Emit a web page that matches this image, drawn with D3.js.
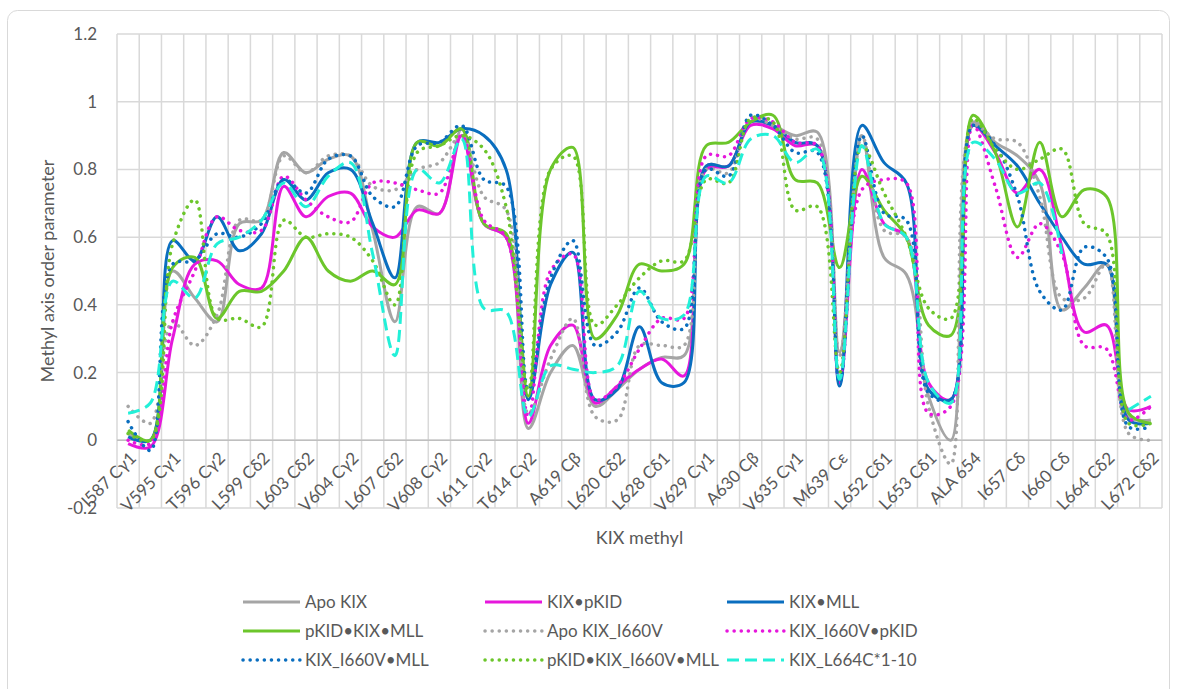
<!DOCTYPE html>
<html>
<head>
<meta charset="utf-8">
<script src="https://cdn.jsdelivr.net/npm/d3@7"></script>
<style>
  body { margin: 0; background: #fff; }
  text { font-family: Lato, "Open Sans", sans-serif; fill: #595959; }
</style>
</head>
<body>
<svg id="chart" width="1178" height="689"></svg>
<script>
// categories (only every other one gets a label on the axis, like Excel did)
var categories = [
  "I587 Cγ1", "I587 Cδ1", "V595 Cγ1", "V595 Cγ2", "T596 Cγ2", "L599 Cδ1", "L599 Cδ2", "L603 Cδ1",
  "L603 Cδ2", "V604 Cγ1", "V604 Cγ2", "L607 Cδ1", "L607 Cδ2", "V608 Cγ1", "V608 Cγ2", "I611 Cδ1",
  "I611 Cγ2", "A613 Cβ", "T614 Cγ2", "A618 Cβ", "A619 Cβ", "L620 Cδ1", "L620 Cδ2", "L624 Cδ2",
  "L628 Cδ1", "L628 Cδ2", "V629 Cγ1", "V629 Cγ2", "A630 Cβ", "A631 Cβ", "V635 Cγ1", "V635 Cγ2",
  "M639 Cε", "M645 Cε", "L652 Cδ1", "L652 Cδ2", "L653 Cδ1", "L653 Cδ2", "ALA 654", "I657 Cγ2",
  "I657 Cδ", "I660 Cγ2", "I660 Cδ", "L664 Cδ1", "L664 Cδ2", "L672 Cδ1", "L672 Cδ2"
];

var apoKIX = [0.02, 0.0, 0.5, 0.42, 0.35, 0.64, 0.65, 0.85, 0.79, 0.83, 0.84, 0.62, 0.35, 0.69, 0.67, 0.92,
  0.64, 0.6, 0.035, 0.2, 0.28, 0.1, 0.15, 0.21, 0.245, 0.25, 0.81, 0.81, 0.94, 0.93, 0.9, 0.91,
  0.26, 0.9, 0.54, 0.49, 0.13, 0.0, 0.94, 0.88, 0.84, 0.76, 0.385, 0.45, 0.52, 0.07, 0.06];
var kixPKID = [-0.01, -0.02, 0.3, 0.52, 0.53, 0.46, 0.45, 0.75, 0.66, 0.72, 0.73, 0.63, 0.6, 0.68, 0.67, 0.9,
  0.64, 0.6, 0.05, 0.28, 0.34, 0.11, 0.16, 0.21, 0.24, 0.19, 0.8, 0.81, 0.93, 0.92, 0.87, 0.87,
  0.17, 0.8, 0.64, 0.6, 0.17, 0.12, 0.93, 0.85, 0.73, 0.8, 0.57, 0.32, 0.34, 0.09, 0.1];
var kixMLL = [0.01, 0.0, 0.59, 0.53, 0.66, 0.56, 0.61, 0.77, 0.71, 0.79, 0.8, 0.64, 0.48, 0.88, 0.88, 0.92,
  0.9, 0.8, 0.12, 0.46, 0.555, 0.12, 0.15, 0.335, 0.17, 0.17, 0.81, 0.81, 0.94, 0.93, 0.88, 0.87,
  0.16, 0.93, 0.82, 0.76, 0.15, 0.12, 0.93, 0.87, 0.81, 0.7, 0.6, 0.52, 0.52, 0.06, 0.05];
var pkidKixMLL = [0.03, 0.0, 0.51, 0.54, 0.36, 0.44, 0.44, 0.5, 0.6, 0.5, 0.47, 0.5, 0.46, 0.88, 0.87, 0.92,
  0.64, 0.61, 0.13, 0.8, 0.865, 0.3, 0.37, 0.52, 0.5, 0.52, 0.87, 0.88, 0.94, 0.96, 0.77, 0.76,
  0.51, 0.78, 0.68, 0.6, 0.34, 0.31, 0.96, 0.85, 0.63, 0.88, 0.66, 0.74, 0.72, 0.08, 0.05];
var apoI660V = [0.1, 0.05, 0.35, 0.28, 0.37, 0.65, 0.65, 0.84, 0.79, 0.84, 0.84, 0.75, 0.74, 0.8, 0.82, 0.9,
  0.72, 0.68, 0.08, 0.24, 0.36, 0.07, 0.06, 0.28, 0.28, 0.28, 0.8, 0.79, 0.95, 0.93, 0.89, 0.89,
  0.25, 0.9, 0.62, 0.6, 0.1, -0.07, 0.93, 0.89, 0.88, 0.72, 0.42, 0.42, 0.52, 0.02, 0.0];
var i660vPKID = [0.0, -0.01, 0.35, 0.5, 0.66, 0.62, 0.62, 0.78, 0.71, 0.66, 0.645, 0.76, 0.76, 0.74, 0.73, 0.9,
  0.65, 0.6, 0.07, 0.5, 0.55, 0.12, 0.16, 0.27, 0.36, 0.36, 0.84, 0.84, 0.95, 0.94, 0.88, 0.87,
  0.18, 0.74, 0.77, 0.76, 0.08, 0.1, 0.93, 0.75, 0.54, 0.64, 0.55, 0.28, 0.27, 0.06, 0.1];
var i660vMLL = [0.055, -0.03, 0.52, 0.53, 0.61, 0.6, 0.64, 0.77, 0.73, 0.83, 0.84, 0.72, 0.69, 0.87, 0.88, 0.93,
  0.77, 0.75, 0.15, 0.48, 0.59, 0.28, 0.32, 0.45, 0.35, 0.33, 0.8, 0.78, 0.96, 0.93, 0.85, 0.85,
  0.17, 0.9, 0.67, 0.65, 0.14, 0.12, 0.93, 0.87, 0.72, 0.44, 0.385, 0.57, 0.54, 0.04, 0.04];
var pkidI660vMLL = [0.02, 0.0, 0.58, 0.71, 0.36, 0.36, 0.335, 0.65, 0.6, 0.61, 0.6, 0.53, 0.4, 0.85, 0.87, 0.9,
  0.86, 0.69, 0.15, 0.8, 0.84, 0.34, 0.4, 0.48, 0.53, 0.53, 0.77, 0.76, 0.95, 0.94, 0.68, 0.69,
  0.2, 0.87, 0.73, 0.6, 0.39, 0.36, 0.95, 0.86, 0.8, 0.83, 0.86, 0.64, 0.61, 0.05, 0.05];
// L664C has no L664 methyls -> gap
var l664c = [0.08, 0.11, 0.47, 0.42, 0.58, 0.6, 0.65, 0.76, 0.69, 0.78, 0.82, 0.55, 0.25, 0.8, 0.76, 0.89,
  0.39, 0.38, 0.07, 0.22, 0.21, 0.2, 0.22, 0.44, 0.36, 0.37, 0.78, 0.76, 0.89, 0.9, 0.82, 0.86,
  0.18, 0.87, 0.64, 0.6, 0.17, 0.11, 0.88, 0.83, 0.73, 0.76, 0.55, null, null, 0.09, 0.13];

var seriesNames = ["Apo KIX", "KIX•pKID", "KIX•MLL", "pKID•KIX•MLL", "Apo KIX_I660V",
  "KIX_I660V•pKID", "KIX_I660V•MLL", "pKID•KIX_I660V•MLL", "KIX_L664C*1-10"];
var seriesValues = [apoKIX, kixPKID, kixMLL, pkidKixMLL, apoI660V, i660vPKID, i660vMLL, pkidI660vMLL, l664c];
var seriesColors = ["#a5a5a5", "#e617dc", "#0a6ebf", "#6cc62b", "#a5a5a5", "#e617dc", "#0a6ebf", "#6cc62b", "#22f0d8"];
var seriesDash = ["solid", "solid", "solid", "solid", "dot", "dot", "dot", "dot", "dash"];
var yTicks = [-0.2, 0, 0.2, 0.4, 0.6, 0.8, 1, 1.2];

function drawChart() {
  var svg = d3.select("#chart");

  // card border
  svg.append("rect").attr("x", 7.5).attr("y", 10.5).attr("width", 1162).attr("height", 700)
    .attr("rx", 10).attr("fill", "#fff").attr("stroke", "#d9d9d9").attr("stroke-width", 1);

  var plotLeft = 117, plotRight = 1162, plotTop = 34, plotBottom = 508;

  var x = d3.scaleBand().domain(categories).range([plotLeft, plotRight]).padding(0);
  var y = d3.scaleLinear().domain([-0.2, 1.2]).range([plotBottom, plotTop]);
  var cx = function (i) { return x(categories[i]) + x.bandwidth() / 2; };

  // grid
  var grid = svg.append("g");
  grid.selectAll("line.h").data(yTicks).enter().append("line")
    .attr("x1", plotLeft).attr("x2", plotRight)
    .attr("y1", function (d) { return y(d); }).attr("y2", function (d) { return y(d); })
    .attr("stroke", "#d9d9d9").attr("stroke-width", 1.5);
  var bounds = d3.range(categories.length + 1);
  grid.selectAll("line.v").data(bounds).enter().append("line")
    .attr("x1", function (k) { return plotLeft + k * x.bandwidth(); })
    .attr("x2", function (k) { return plotLeft + k * x.bandwidth(); })
    .attr("y1", plotTop).attr("y2", plotBottom)
    .attr("stroke", "#d9d9d9").attr("stroke-width", 1.5);
  // category axis line at 0
  svg.append("line").attr("x1", plotLeft).attr("x2", plotRight).attr("y1", y(0)).attr("y2", y(0))
    .attr("stroke", "#bfbfbf").attr("stroke-width", 1.5);

  // y tick labels
  svg.append("g").selectAll("text").data(yTicks).enter().append("text")
    .attr("x", 97).attr("y", function (d) { return y(d); }).attr("dy", "0.35em")
    .attr("text-anchor", "end").style("font-size", "17px")
    .text(function (d) { return String(Math.round(d * 10) / 10); });

  // series (Excel "smoothed line" -> centripetal catmull-rom keeps overshoot small)
  var line = d3.line()
    .defined(function (d) { return d != null; })
    .x(function (d, i) { return cx(i); })
    .y(function (d) { return y(d); })
    .curve(d3.curveCatmullRom.alpha(0.5));

  function dashFor(kind) {
    if (kind === "dot") return "0.1 7";
    if (kind === "dash") return "12 6";
    return null;
  }

  var sg = svg.append("g");
  seriesValues.forEach(function (vals, s) {
    sg.append("path").datum(vals).attr("d", line)
      .attr("fill", "none").attr("stroke", seriesColors[s])
      .attr("stroke-width", seriesDash[s] === "dot" ? 3.5 : 3)
      .attr("stroke-linecap", seriesDash[s] === "dot" ? "round" : "butt")
      .attr("stroke-dasharray", dashFor(seriesDash[s]));
  });

  // x tick labels, every other category
  svg.append("g").selectAll("text").data(categories.filter(function (d, i) { return i % 2 === 0; }))
    .enter().append("text")
    .attr("transform", function (d) { return "translate(" + (x(d) + x.bandwidth() / 2 + 5) + "," + 455 + ") rotate(-45)"; })
    .attr("text-anchor", "end").attr("dy", "0.35em").style("font-size", "17px")
    .text(function (d) { return d; });

  // axis titles
  svg.append("text").attr("x", (plotLeft + plotRight) / 2).attr("y", 544).attr("text-anchor", "middle")
    .style("font-size", "18px").text("KIX methyl");
  svg.append("text").attr("transform", "translate(54," + ((plotTop + plotBottom) / 2) + ") rotate(-90)")
    .attr("text-anchor", "middle").style("font-size", "18px").text("Methyl axis order parameter");

  // legend
  var lg = svg.append("g");
  seriesNames.forEach(function (name, s) {
    var col = s % 3, row = Math.floor(s / 3);
    var lx = 243 + col * 242, ly = 602 + row * 29;
    lg.append("line").attr("x1", lx).attr("x2", lx + 57).attr("y1", ly).attr("y2", ly)
      .attr("stroke", seriesColors[s]).attr("stroke-width", seriesDash[s] === "dot" ? 3.5 : 3)
      .attr("stroke-linecap", seriesDash[s] === "dot" ? "round" : "butt")
      .attr("stroke-dasharray", dashFor(seriesDash[s]));
    lg.append("text").attr("x", lx + 62).attr("y", ly).attr("dy", "0.35em")
      .style("font-size", "17px").text(name);
  });
}

drawChart();
</script>
</body>
</html>
